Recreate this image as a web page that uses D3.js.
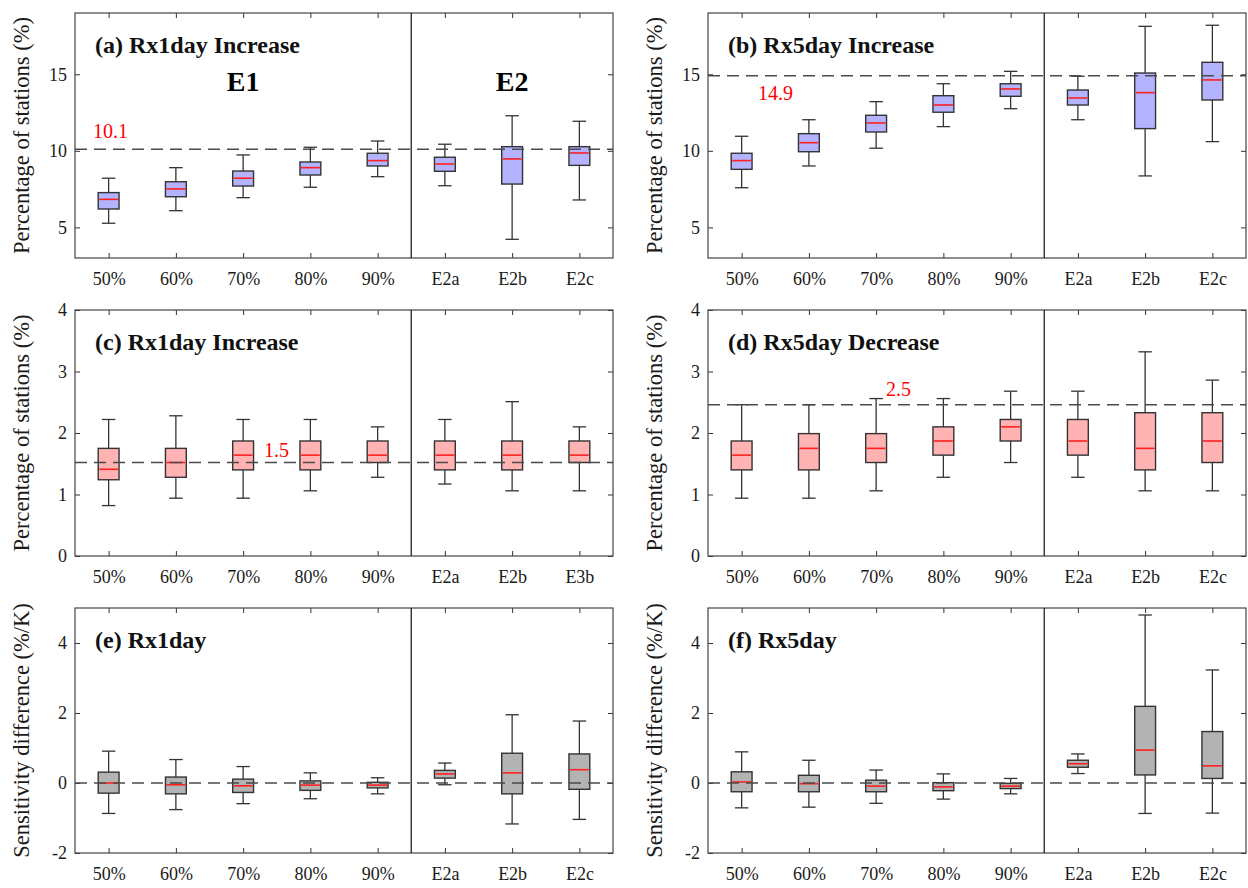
<!DOCTYPE html>
<html>
<head>
<meta charset="utf-8">
<script src="https://cdn.jsdelivr.net/npm/d3@7"></script>
<style>
  body { margin: 0; background: #fff; }
  svg { display: block; font-family: "Liberation Serif", "Times New Roman", serif; }
</style>
</head>
<body>
<svg id="chart" width="1248" height="888"></svg>
<script>
// category labels
const e1Labels = ["50%", "60%", "70%", "80%", "90%"];
const e2Labels = ["E2a", "E2b", "E2c"];
const e2LabelsC = ["E2a", "E2b", "E3b"];

// box stats per category: [lower whisker, q1, median, q3, upper whisker]
const statsA = [[5.27, 6.20, 6.83, 7.27, 8.21], [6.09, 7.00, 7.51, 7.98, 8.90], [6.94, 7.70, 8.21, 8.68, 9.73],
  [7.62, 8.42, 8.90, 9.27, 10.23], [8.31, 9.01, 9.36, 9.84, 10.64], [7.72, 8.66, 9.14, 9.58, 10.43],
  [4.22, 7.83, 9.47, 10.27, 12.29], [6.79, 9.05, 9.86, 10.27, 11.93]];
const statsB = [[7.59, 8.79, 9.36, 9.84, 10.95], [9.01, 9.94, 10.53, 11.12, 12.03], [10.17, 11.23, 11.82, 12.32, 13.21],
  [11.58, 12.52, 12.99, 13.60, 14.38], [12.75, 13.56, 14.04, 14.38, 15.19], [12.03, 12.99, 13.45, 13.97, 14.87],
  [8.36, 11.45, 13.80, 15.08, 18.13], [10.60, 13.32, 14.63, 15.78, 18.20]];
const statsC = [[0.82, 1.24, 1.41, 1.75, 2.22], [0.94, 1.28, 1.52, 1.75, 2.28], [0.94, 1.40, 1.64, 1.87, 2.22],
  [1.06, 1.40, 1.64, 1.87, 2.22], [1.28, 1.52, 1.64, 1.87, 2.10], [1.17, 1.40, 1.64, 1.87, 2.22],
  [1.06, 1.40, 1.64, 1.87, 2.51], [1.06, 1.52, 1.64, 1.87, 2.10]];
const statsD = [[0.94, 1.40, 1.64, 1.87, 2.46], [0.94, 1.40, 1.75, 1.99, 2.46], [1.06, 1.52, 1.75, 1.99, 2.56],
  [1.28, 1.64, 1.87, 2.10, 2.56], [1.52, 1.87, 2.10, 2.22, 2.68], [1.28, 1.64, 1.87, 2.22, 2.68],
  [1.06, 1.40, 1.75, 2.33, 3.32], [1.06, 1.52, 1.87, 2.33, 2.86]];
const statsE = [[-0.87, -0.29, 0.00, 0.31, 0.91], [-0.76, -0.31, -0.05, 0.17, 0.67], [-0.59, -0.27, -0.08, 0.11, 0.47],
  [-0.45, -0.21, -0.06, 0.06, 0.29], [-0.31, -0.14, -0.06, 0.02, 0.15], [-0.05, 0.14, 0.26, 0.36, 0.57],
  [-1.17, -0.31, 0.29, 0.85, 1.95], [-1.04, -0.18, 0.38, 0.83, 1.77]];
const statsF = [[-0.71, -0.25, 0.03, 0.32, 0.89], [-0.69, -0.25, -0.02, 0.22, 0.65], [-0.58, -0.25, -0.09, 0.08, 0.37],
  [-0.46, -0.22, -0.11, 0.01, 0.26], [-0.31, -0.16, -0.09, -0.01, 0.13], [0.27, 0.45, 0.55, 0.65, 0.83],
  [-0.87, 0.23, 0.94, 2.19, 4.80], [-0.86, 0.13, 0.49, 1.47, 3.23]];

// reference (dashed) lines and their labels
const refValues = [10.1, 14.9, 1.52, 2.46, 0, 0];
const refLabels = ["10.1", "14.9", "1.5", "2.5", "", ""];

const titles = ["(a) Rx1day Increase", "(b) Rx5day Increase", "(c) Rx1day Increase",
  "(d) Rx5day Decrease", "(e) Rx1day", "(f) Rx5day"];
const yTitles = ["Percentage of stations (%)", "Sensitivity difference (%/K)"];
const yTicksTop = [5, 10, 15];
const yTicksMid = [0, 1, 2, 3, 4];
const yTicksBot = [-2, 0, 2, 4];

const svg = d3.select("#chart");

const cols = [{ x0: 75, x1: 613, yl: 29 }, { x0: 708, x1: 1246, yl: 662 }];
const rows = [{ y0: 13, y1: 258 }, { y0: 310, y1: 556 }, { y0: 608, y1: 853 }];

const panels = [
  { c: 0, r: 0, stats: statsA, labels: e1Labels.concat(e2Labels), domain: [3, 19], ticks: yTicksTop, fill: "#b3b3ff", yt: 0, refPos: [93, 138] },
  { c: 1, r: 0, stats: statsB, labels: e1Labels.concat(e2Labels), domain: [3, 19], ticks: yTicksTop, fill: "#b3b3ff", yt: 0, refPos: [758, 100] },
  { c: 0, r: 1, stats: statsC, labels: e1Labels.concat(e2LabelsC), domain: [0, 4], ticks: yTicksMid, fill: "#ffb3b3", yt: 0, refPos: [264, 457] },
  { c: 1, r: 1, stats: statsD, labels: e1Labels.concat(e2Labels), domain: [0, 4], ticks: yTicksMid, fill: "#ffb3b3", yt: 0, refPos: [886, 396] },
  { c: 0, r: 2, stats: statsE, labels: e1Labels.concat(e2Labels), domain: [-2, 5], ticks: yTicksBot, fill: "#b3b3b3", yt: 1 },
  { c: 1, r: 2, stats: statsF, labels: e1Labels.concat(e2Labels), domain: [-2, 5], ticks: yTicksBot, fill: "#b3b3b3", yt: 1 }
];

panels.forEach((p, pi) => {
  const col = cols[p.c], row = rows[p.r];
  const g = svg.append("g");
  const idx = d3.range(p.labels.length);

  const x = d3.scalePoint().domain(idx).range([col.x0, col.x1]).padding(0.5);
  const y = d3.scaleLinear().domain(p.domain).range([row.y1, row.y0]);
  const step = x.step();
  const bw = step * 0.31, cw = step * 0.2;

  // axes with inward ticks on all four sides
  const ax = (gen, tx, ty) => {
    const a = g.append("g").attr("transform", `translate(${tx},${ty})`).call(gen);
    a.select(".domain").remove();
    a.selectAll(".tick line").attr("stroke", "#333");
    a.selectAll("text").attr("fill", "#1a1a1a").style("font-size", "18px").style("font-family", "Liberation Serif");
    return a;
  };
  ax(d3.axisBottom(x).tickFormat(i => p.labels[i]).tickSizeInner(-5).tickSizeOuter(0).tickPadding(14), 0, row.y1);
  ax(d3.axisTop(x).tickFormat("").tickSizeInner(-5).tickSizeOuter(0), 0, row.y0);
  ax(d3.axisLeft(y).tickValues(p.ticks).tickFormat(d => String(d)).tickSizeInner(-5).tickSizeOuter(0).tickPadding(8), col.x0, 0);
  ax(d3.axisRight(y).tickValues(p.ticks).tickFormat("").tickSizeInner(-5).tickSizeOuter(0), col.x1, 0);

  // frame
  g.append("rect")
    .attr("x", col.x0).attr("y", row.y0)
    .attr("width", col.x1 - col.x0).attr("height", row.y1 - row.y0)
    .attr("fill", "none").attr("stroke", "#444").attr("stroke-width", 1.2);

  // E1 / E2 separator
  const sep = x(4) + step / 2;
  g.append("line")
    .attr("x1", sep).attr("x2", sep).attr("y1", row.y0).attr("y2", row.y1)
    .attr("stroke", "#222").attr("stroke-width", 1.3);

  // boxes
  const boxes = g.selectAll(".box").data(p.stats).enter().append("g").attr("class", "box");
  boxes.append("line")
    .attr("x1", (d, i) => x(i)).attr("x2", (d, i) => x(i))
    .attr("y1", d => y(d[4])).attr("y2", d => y(d[3]))
    .attr("stroke", "#333").attr("stroke-width", 1.3);
  boxes.append("line")
    .attr("x1", (d, i) => x(i)).attr("x2", (d, i) => x(i))
    .attr("y1", d => y(d[1])).attr("y2", d => y(d[0]))
    .attr("stroke", "#333").attr("stroke-width", 1.3);
  [0, 4].forEach(k => {
    boxes.append("line")
      .attr("x1", (d, i) => x(i) - cw / 2).attr("x2", (d, i) => x(i) + cw / 2)
      .attr("y1", d => y(d[k])).attr("y2", d => y(d[k]))
      .attr("stroke", "#333").attr("stroke-width", 1.3);
  });
  boxes.append("rect")
    .attr("x", (d, i) => x(i) - bw / 2).attr("width", bw)
    .attr("y", d => y(d[3])).attr("height", d => y(d[1]) - y(d[3]))
    .attr("fill", p.fill).attr("stroke", "#333").attr("stroke-width", 1.4);
  boxes.append("line")
    .attr("x1", (d, i) => x(i) - bw / 2 + 1).attr("x2", (d, i) => x(i) + bw / 2 - 1)
    .attr("y1", d => y(d[2])).attr("y2", d => y(d[2]))
    .attr("stroke", "#ff2020").attr("stroke-width", 1.6);

  // dashed reference line
  g.append("line")
    .attr("x1", col.x0).attr("x2", col.x1)
    .attr("y1", y(refValues[pi])).attr("y2", y(refValues[pi]))
    .attr("stroke", "#4a4a4a").attr("stroke-width", 1.5).attr("stroke-dasharray", "12,7");

  if (refLabels[pi]) {
    g.append("text").attr("x", p.refPos[0]).attr("y", p.refPos[1])
      .attr("fill", "#ff0000").style("font-size", "20px").text(refLabels[pi]);
  }

  // title
  g.append("text").attr("x", col.x0 + 20).attr("y", row.y0 + 40)
    .style("font-size", "24px").style("font-weight", "bold").attr("fill", "#111")
    .text(titles[pi]);

  if (pi === 0) {
    g.append("text").attr("x", d3.mean([x(0), x(4)])).attr("y", row.y0 + 78)
      .attr("text-anchor", "middle").style("font-size", "28px").style("font-weight", "bold").text("E1");
    g.append("text").attr("x", x(6)).attr("y", row.y0 + 78)
      .attr("text-anchor", "middle").style("font-size", "28px").style("font-weight", "bold").text("E2");
  }

  // y-axis title
  g.append("text")
    .attr("transform", `translate(${col.yl},${(row.y0 + row.y1) / 2}) rotate(-90)`)
    .attr("text-anchor", "middle").style("font-size", "22.5px").attr("fill", "#1a1a1a")
    .text(yTitles[p.yt]);
});
</script>
</body>
</html>
